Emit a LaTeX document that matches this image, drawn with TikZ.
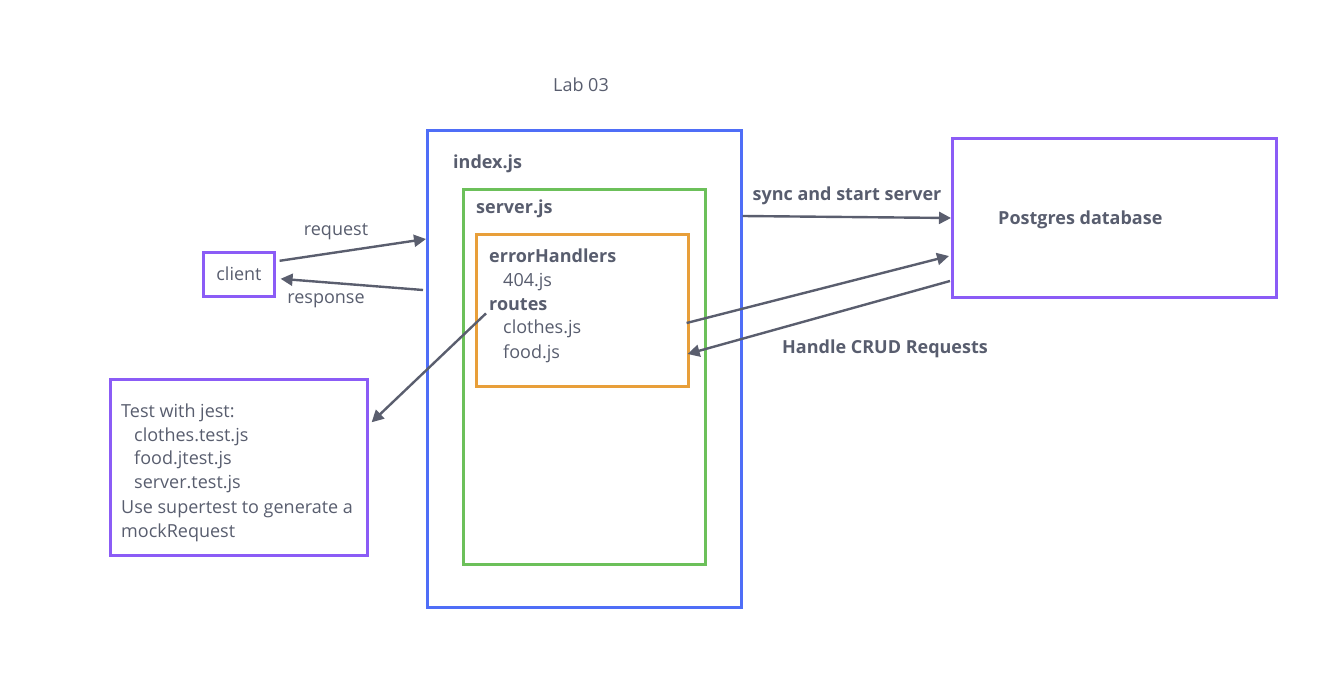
\documentclass[tikz,border=0pt]{standalone}
\usepackage{fontspec}
\setmainfont{Open Sans}
\usetikzlibrary{arrows.meta,calc}
\definecolor{txt}{HTML}{585D6E}
\definecolor{arr}{HTML}{5A5E6E}
\definecolor{cblue}{HTML}{4F6EF7}
\definecolor{cgreen}{HTML}{6CC05A}
\definecolor{corange}{HTML}{E89F3A}
\definecolor{cpurple}{HTML}{8B5CF6}
\tikzset{
  box/.style={draw, line width=2.6pt, minimum width=#1, inner sep=0pt, anchor=north west},
  lbl/.style={text=txt, font=\fontsize{18}{20}\selectfont, inner sep=0pt, anchor=base west},
  blbl/.style={lbl, font=\fontsize{18}{20}\selectfont\bfseries},
  conn/.style={draw=arr, line width=2.4pt, -{Triangle[length=12pt,width=12pt]}},
}
\begin{document}
\begin{tikzpicture}[x=1pt,y=-1pt]
\useasboundingbox (0,0) rectangle (1318,687);
% boxes
\node[box=314pt, minimum height=477pt, draw=cblue] (index) at (426,129) {};
\node[box=242pt, minimum height=375pt, draw=cgreen] (server) at (462,188) {};
\node[box=212pt, minimum height=152pt, draw=corange] (orange) at (475,233) {};
\node[box=71pt, minimum height=44pt, draw=cpurple] (client) at (202,251) {};
\node[box=257pt, minimum height=176pt, draw=cpurple] (test) at (109,378) {};
\node[box=324pt, minimum height=159pt, draw=cpurple] (pg) at (951,137) {};
% texts
\node[lbl, anchor=base] (lab) at (581,92) {Lab 03};
\node[blbl] (tindex) at (453,169) {index.js};
\node[blbl] (tserver) at (476,214) {server.js};
\node[blbl] (terr) at (489,263) {errorHandlers};
\node[lbl] (t404) at (503,287) {404.js};
\node[blbl] (troutes) at (489,310) {routes};
\node[lbl] (tclothes) at (503,334) {clothes.js};
\node[lbl] (tfood) at (503,358) {food.js};
\node[lbl, anchor=base] (tclient) at (239,280) {client};
\node[blbl] (tpg) at (998,225) {Postgres database};
\node[lbl] (t1) at (121,417) {Test with jest:};
\node[lbl] (t2) at (134,441) {clothes.test.js};
\node[lbl] (t3) at (134,464) {food.jtest.js};
\node[lbl] (t4) at (134,488) {server.test.js};
\node[lbl] (t5) at (121,513) {Use supertest to generate a};
\node[lbl] (t6) at (121,537) {mockRequest};
% connector labels
\node[lbl, anchor=base] (lreq) at (336,236) {request};
\node[lbl, anchor=base] (lresp) at (326,303) {response};
\node[blbl, anchor=base] (lsync) at (847,201) {sync and start server};
\node[blbl, anchor=base] (lcrud) at (885,353) {Handle CRUD Requests};
% connectors
\draw[conn] ([xshift=4pt,yshift=13.5pt]client.east) -- ([yshift=-110pt]index.north west);
\draw[conn] ([xshift=-3pt,yshift=-161pt]index.north west) -- ([xshift=5pt,yshift=-4.5pt]client.east);
\draw[conn] ([xshift=-3pt,yshift=-3pt]troutes.south west) -- ([xshift=3pt,yshift=45pt]test.east);
\draw[conn] ([yshift=-87pt]index.north east) -- ([yshift=-81pt]pg.north west);
\draw[conn] ([xshift=-3pt,yshift=-90pt]orange.north east) -- ([xshift=-2pt,yshift=-119pt]pg.north west);
\draw[conn] ([xshift=-1pt,yshift=-144pt]pg.north west) -- ([xshift=-2pt,yshift=-121pt]orange.north east);
\end{tikzpicture}
\end{document}
